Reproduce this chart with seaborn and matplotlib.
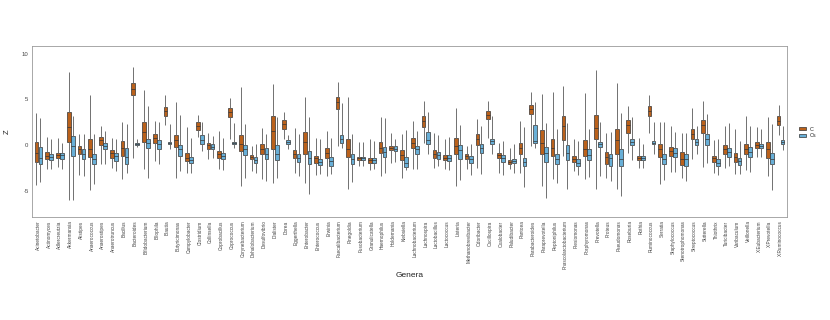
import numpy as np
import pandas as pd
import matplotlib
matplotlib.use("Agg")
import matplotlib.pyplot as plt
import seaborn as sns

genera = ["Acinetobacter", "Actinomyces", "Adlercreutzia", "Akkermansia", "Alistipes",
          "Anaerococcus", "Anaerostipes", "Anaerotruncus", "Bacillus", "Bacteroides",
          "Bifidobacterium", "Bilophila", "Blautia", "Butyricimonas", "Campylobacter",
          "Clostridium", "Collinsella", "Coprobacillus", "Coprococcus", "Corynebacterium",
          "Dehalobacterium", "Desulfovibrio", "Dialister", "Dorea", "Eggerthella",
          "Enterobacter", "Enterococcus", "Erwinia", "Faecalibacterium", "Finegoldia",
          "Fusobacterium", "Granulicatella", "Haemophilus", "Holdemania", "Klebsiella",
          "Lachnobacterium", "Lachnospira", "Lactobacillus", "Lactococcus", "Listeria",
          "Methanobrevibacter", "Odoribacter", "Oscillospira", "Oxalobacter", "Paludibacter",
          "Pantoea", "Parabacteroides", "Paraprevotella", "Peptoniphilus", "Phascolarctobacterium",
          "Plesiomonas", "Porphyromonas", "Prevotella", "Proteus", "Pseudomonas",
          "Roseburia", "Rothia", "Ruminococcus", "Serratia", "Staphylococcus",
          "Stenotrophomonas", "Streptococcus", "Sutterella", "Thiothrix", "Turicibacter",
          "Varibaculum", "Veillonella", "X.Eubacterium", "X.Prevotella", "X.Ruminococcus"]

groups = ["C", "Cs"]

# group 1 (orange): whisker low, q1, median, q3, whisker high
g1_lo = [-4.36, -2.64, -2.34, -6.0, -3.3, -4.9, -2.1, -2.45, -3.66, -1.36,
         -2.56, -1.72, 2.2, -3.55, -3.0, 0.95, -1.54, -2.64, 0.73, -4.47,
         -2.82, -3.66, -4.18, 0.66, -3.08, -4.1, -3.3, -3.37, -0.07, -4.84,
         -2.27, -2.71, -3.37, -1.9, -3.55, -2.56, 0.29, -2.45, -2.64, -4.47,
         -2.64, -2.45, 0.84, -3.0, -2.64, -3.0, -0.07, -4.47, -3.74, -1.17,
         -2.82, -3.74, -4.76, -3.55, -4.76, -0.88, -2.45, 1.39, -4.29, -2.93,
         -3.55, -1.54, -2.34, -3.08, -2.45, -3.19, -2.71, -1.25, -3.37, 1.1]
g1_q1 = [-1.83, -1.47, -1.36, 0.3, -1.0, -1.25, 0.0, -1.36, -1.17, 5.49,
         0.4, 0.26, 3.22, -0.15, -1.72, 1.68, -0.37, -1.36, 3.04, -0.62,
         -1.54, -0.92, -0.37, 1.76, -1.39, -0.92, -1.9, -1.43, 3.96, -1.25,
         -1.65, -1.9, -0.81, -0.55, -1.61, -0.26, 1.94, -1.36, -1.65, -0.92,
         -1.47, 0.04, 2.82, -1.36, -2.01, -0.99, 3.41, -0.92, -1.17, 0.59,
         -1.79, -1.17, 0.73, -2.01, -0.99, 1.32, -1.65, 3.15, -1.28, -1.17,
         -2.2, 0.66, 1.32, -1.83, -0.99, -1.79, -0.92, -0.29, -1.36, 2.2]
g1_med = [-0.8, -1.17, -1.1, 1.94, -0.44, -0.44, 0.6, -0.88, -0.33, 6.15,
          1.47, 0.84, 3.77, 0.59, -1.36, 2.12, 0.0, -0.99, 3.59, 0.18,
          -1.25, -0.37, 1.58, 2.27, -0.99, 0.4, -1.43, -0.88, 4.69, -0.44,
          -1.43, -1.65, -0.26, -0.29, -1.06, 0.29, 2.67, -0.99, -1.36, -0.07,
          -1.17, 0.66, 3.3, -1.06, -1.83, -0.33, 3.96, 0.29, -0.33, 2.12,
          -1.47, -0.44, 1.83, -1.25, 0.59, 2.2, -1.39, 3.77, -0.44, -0.62,
          -1.54, 1.21, 2.2, -1.36, -0.44, -1.25, -0.37, 0.04, -0.44, 2.67]
g1_q3 = [0.3, -0.73, -0.8, 3.6, -0.07, 0.66, 0.95, -0.55, 0.48, 6.78,
         2.49, 1.21, 4.14, 1.1, -0.88, 2.49, 0.29, -0.62, 4.03, 1.1,
         -1.03, 0.11, 3.22, 2.75, -0.55, 1.47, -1.17, -0.26, 5.24, 0.66,
         -1.25, -1.36, 0.4, -0.07, -0.55, 0.84, 3.22, -0.55, -1.1, 0.77,
         -0.92, 1.21, 3.7, -0.81, -1.65, 0.29, 4.4, 1.68, 0.66, 3.22,
         -1.17, 0.55, 3.33, -0.73, 1.76, 2.78, -1.17, 4.25, 0.18, -0.18,
         -0.73, 1.76, 2.78, -1.17, 0.0, -0.88, 0.18, 0.33, 0.4, 3.15]
g1_hi = [3.5, 0.95, 0.84, 8.0, 1.2, 5.5, 2.1, 0.84, 2.5, 8.53,
         6.08, 2.67, 5.49, 4.69, 1.94, 3.3, 1.39, 1.58, 5.16, 6.34,
         -0.07, 1.83, 6.7, 3.59, 1.83, 5.24, 0.84, 1.58, 6.89, 5.31,
         0.37, 0.73, 3.04, 1.39, 1.21, 2.67, 4.87, 1.39, 0.73, 4.03,
         -0.07, 2.86, 4.87, 0.29, -0.26, 2.67, 5.79, 5.6, 5.79, 6.45,
         0.66, 5.68, 8.28, 1.39, 6.81, 4.25, 0.84, 5.49, 2.56, 2.12,
         1.39, 4.03, 4.87, 0.59, 2.05, 1.76, 3.15, 1.94, 3.04, 4.4]

# group 2 (blue)
g2_lo = [-4.0, -2.56, -2.56, -6.0, -3.37, -4.2, -2.0, -2.8, -3.0, -0.15,
         -3.55, -2.09, -0.44, -2.82, -3.08, -0.62, -1.36, -2.71, -0.33, -3.55,
         -3.0, -3.92, -3.55, -0.37, -3.37, -5.38, -3.19, -3.19, -0.26, -4.03,
         -2.27, -2.64, -3.08, -1.83, -2.71, -2.56, -0.99, -2.27, -2.71, -3.81,
         -3.3, -3.19, -0.99, -3.3, -3.0, -4.54, -0.26, -5.75, -4.18, -4.84,
         -3.3, -3.48, -3.37, -3.92, -5.57, -1.61, -2.45, -0.99, -3.81, -2.93,
         -3.92, -0.99, -1.98, -3.3, -2.27, -3.19, -2.93, -1.25, -4.91, -0.51]
g2_q1 = [-2.1, -1.6, -1.47, -1.17, -1.47, -2.1, -0.45, -1.72, -2.0, 0.07,
         -0.33, -0.44, 0.18, -1.17, -1.98, 0.11, -0.44, -1.54, 0.15, -1.1,
         -1.9, -1.54, -1.65, 0.11, -1.83, -2.09, -2.2, -2.27, 0.22, -2.01,
         -1.65, -1.9, -1.25, -0.66, -2.34, -0.92, 0.18, -1.47, -1.72, -1.47,
         -1.9, -0.88, 0.18, -1.83, -1.98, -2.27, 0.22, -1.83, -2.01, -1.61,
         -2.27, -1.61, -0.15, -2.27, -2.27, 0.04, -1.65, 0.15, -2.09, -1.25,
         -2.27, 0.07, 0.04, -2.27, -1.25, -2.12, -1.25, -0.29, -2.01, 0.18]
g2_med = [-1.36, -1.25, -1.1, -0.07, -1.0, -1.54, -0.1, -1.17, -1.28, 0.18,
          0.22, 0.11, 0.29, -0.44, -1.61, 0.59, -0.15, -1.17, 0.26, -0.44,
          -1.61, -0.92, -0.92, 0.37, -1.36, -1.36, -1.83, -1.72, 0.66, -1.47,
          -1.43, -1.65, -0.7, -0.37, -1.9, -0.44, 0.59, -1.1, -1.39, -0.51,
          -1.54, -0.29, 0.48, -1.43, -1.72, -1.83, 0.48, -0.88, -1.47, -0.81,
          -1.9, -1.1, 0.15, -1.36, -1.47, 0.37, -1.39, 0.29, -1.54, -0.81,
          -1.54, 0.37, 0.66, -1.9, -0.73, -1.72, -0.73, -0.07, -1.47, 0.4]
g2_q3 = [-0.18, -1.0, -0.8, 1.0, -0.44, -1.0, 0.2, -0.8, -0.26, 0.29,
         0.73, 0.55, 0.4, 0.04, -1.25, 1.1, 0.11, -0.81, 0.37, 0.04,
         -1.25, -0.33, 0.04, 0.59, -0.92, -0.62, -1.54, -1.25, 1.14, -0.99,
         -1.25, -1.43, -0.15, -0.11, -1.28, -0.07, 1.5, -0.73, -1.1, 0.04,
         -1.17, 0.18, 0.73, -1.1, -1.47, -1.36, 2.2, -0.15, -0.99, 0.0,
         -1.54, -0.44, 0.37, -0.99, -0.44, 0.73, -1.17, 0.44, -0.92, -0.29,
         -0.99, 0.66, 1.21, -1.54, -0.29, -1.39, -0.18, 0.18, -0.88, 0.62]
g2_hi = [3.0, 0.73, 0.22, 3.15, 1.2, 1.2, 1.6, 0.66, 2.3, 0.66,
         4.25, 2.49, 2.3, 3.3, 0.84, 2.49, 1.03, 0.84, 2.42, 2.31,
         0.11, 1.21, 3.04, 1.1, 1.21, 3.04, 0.66, 0.84, 4.62, 1.21,
         0.37, 0.48, 2.93, 0.66, 1.68, 1.58, 3.66, 1.1, 0.95, 2.2,
         0.11, 2.05, 3.22, 0.48, 0.11, 2.01, 4.76, 2.42, 1.76, 2.42,
         0.48, 1.76, 2.56, 1.47, 3.52, 3.04, 0.11, 2.49, 2.49, 1.47,
         1.39, 2.05, 3.41, 0.66, 2.42, 0.48, 2.12, 1.76, 2.31, 2.05]

y_ticks = [-5, 0, 5, 10]

# ---- build long table: five summary points per box ----
rows = []
for grp, stats in zip(groups, [(g1_lo, g1_q1, g1_med, g1_q3, g1_hi),
                               (g2_lo, g2_q1, g2_med, g2_q3, g2_hi)]):
    for i, g in enumerate(genera):
        for s in stats:
            rows.append((g, grp, s[i]))
df = pd.DataFrame(rows, columns=["Genera", "group", "value"])

sns.set_theme(style="white")
plt.rcParams["font.family"] = ["Liberation Sans", "DejaVu Sans"]

fig = plt.figure(figsize=(8.3, 3.2), dpi=100)
ax = fig.add_axes([32 / 830, 1 - 217 / 320, 755 / 830, 171 / 320])

sns.boxplot(data=df, x="Genera", y="value", hue="group", order=genera,
            hue_order=groups, palette=["#D55E00", "#56B4E9"],
            whis=(0, 100), width=0.76, gap=0.1, linewidth=0.5,
            linecolor="#333333", fliersize=0, showcaps=False,
            whiskerprops=dict(color="#707070", linewidth=0.7),
            ax=ax)

ax.set_ylim(-7.85, 10.85)
ax.set_xlim(-0.6, len(genera) - 0.4)
ax.set_yticks(y_ticks)
ax.set_yticklabels([str(t) for t in y_ticks], fontsize=4.3, color="#444444")
ax.tick_params(axis="x", labelrotation=90, labelsize=3.4, labelcolor="#444444",
               length=1.5, width=0.4, color="#888888", pad=1)
ax.tick_params(axis="y", length=1.5, width=0.4, color="#888888", pad=1)
for sp in ax.spines.values():
    sp.set_color("#9a9a9a")
    sp.set_linewidth(0.6)
ax.set_xlabel("Genera", fontsize=6, color="#222222", labelpad=2)
ax.set_ylabel("Z", fontsize=5.5, color="#222222", labelpad=8)

ax.legend(loc="center left", bbox_to_anchor=(1.012, 0.494), frameon=False,
          fontsize=4, handlelength=1.2, handleheight=0.5, labelspacing=0.25,
          borderpad=0)

fig.savefig("out.png", dpi=100)
